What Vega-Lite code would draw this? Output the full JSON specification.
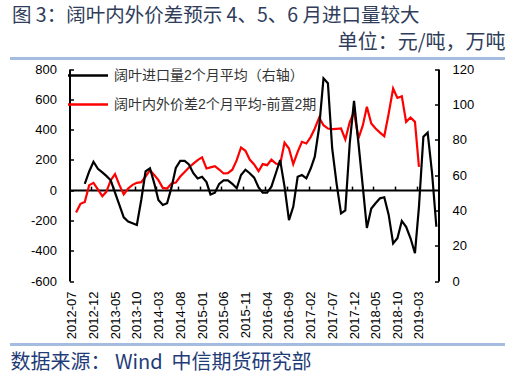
{
  "$schema": "https://vega.github.io/schema/vega-lite/v6.json",
  "width": 495,
  "height": 286,
  "autosize": {"type": "none"},
  "padding": {"left": 10, "top": 58.5, "right": 6, "bottom": 30.5},
  "background": "white",
  "title": {
    "text": "图 3：阔叶内外价差预示 4、5、6 月进口量较大",
    "anchor": "start", "frame": "group", "font": "Noto Sans CJK SC", "fontSize": 19.5,
    "fontWeight": "normal", "color": "#2f3d5b", "offset": 6, "dx": 2
  },
  "config": {
    "view": {"stroke": "#a4bcdf", "strokeWidth": 3, "strokeDash": [495, 286, 495, 286]},
    "font": "Liberation Sans",
    "axis": {"grid": false, "labelColor": "#000000", "labelFontSize": 13, "labelFont": "Liberation Sans"}
  },
  "data": {"values": [
    {"date": "2012-07-01", "imp": null, "spread": null},
    {"date": "2012-08-01", "imp": null, "spread": -148},
    {"date": "2012-09-01", "imp": null, "spread": -90},
    {"date": "2012-10-01", "imp": 55, "spread": -78},
    {"date": "2012-11-01", "imp": 62, "spread": 33},
    {"date": "2012-12-01", "imp": 67.5, "spread": 48},
    {"date": "2013-01-01", "imp": 63.5, "spread": 5},
    {"date": "2013-02-01", "imp": 61.5, "spread": -40},
    {"date": "2013-03-01", "imp": 59.5, "spread": -11},
    {"date": "2013-04-01", "imp": 57, "spread": 66},
    {"date": "2013-05-01", "imp": 50, "spread": 106},
    {"date": "2013-06-01", "imp": 43, "spread": 33},
    {"date": "2013-07-01", "imp": 36, "spread": -28},
    {"date": "2013-08-01", "imp": 33.6, "spread": 11},
    {"date": "2013-09-01", "imp": 32.7, "spread": 35},
    {"date": "2013-10-01", "imp": 31.7, "spread": 48},
    {"date": "2013-11-01", "imp": 46, "spread": 53},
    {"date": "2013-12-01", "imp": 62, "spread": 90},
    {"date": "2014-01-01", "imp": 63.8, "spread": 132},
    {"date": "2014-02-01", "imp": 55, "spread": 99},
    {"date": "2014-03-01", "imp": 45.8, "spread": 66},
    {"date": "2014-04-01", "imp": 43, "spread": 15},
    {"date": "2014-05-01", "imp": 44, "spread": 11},
    {"date": "2014-06-01", "imp": 53, "spread": 44},
    {"date": "2014-07-01", "imp": 64, "spread": 50},
    {"date": "2014-08-01", "imp": 68, "spread": 90},
    {"date": "2014-09-01", "imp": 68, "spread": 120},
    {"date": "2014-10-01", "imp": 66, "spread": 150},
    {"date": "2014-11-01", "imp": 61, "spread": 175},
    {"date": "2014-12-01", "imp": 58, "spread": 198},
    {"date": "2015-01-01", "imp": 59, "spread": 216},
    {"date": "2015-02-01", "imp": 56, "spread": 143},
    {"date": "2015-03-01", "imp": 49, "spread": 150},
    {"date": "2015-04-01", "imp": 50, "spread": 158},
    {"date": "2015-05-01", "imp": 55, "spread": 136},
    {"date": "2015-06-01", "imp": 57, "spread": 110},
    {"date": "2015-07-01", "imp": 57, "spread": 112},
    {"date": "2015-08-01", "imp": 55, "spread": 135},
    {"date": "2015-09-01", "imp": 52.5, "spread": 198},
    {"date": "2015-10-01", "imp": 60, "spread": 282},
    {"date": "2015-11-01", "imp": 63, "spread": 260},
    {"date": "2015-12-01", "imp": 61, "spread": 202},
    {"date": "2016-01-01", "imp": 58.5, "spread": 170},
    {"date": "2016-02-01", "imp": 53, "spread": 125},
    {"date": "2016-03-01", "imp": 50, "spread": 172},
    {"date": "2016-04-01", "imp": 50, "spread": 165},
    {"date": "2016-05-01", "imp": 53.4, "spread": 202},
    {"date": "2016-06-01", "imp": 61, "spread": 176},
    {"date": "2016-07-01", "imp": 68.5, "spread": 169},
    {"date": "2016-08-01", "imp": 53.4, "spread": 314},
    {"date": "2016-09-01", "imp": 34.5, "spread": 275},
    {"date": "2016-10-01", "imp": 42, "spread": 172},
    {"date": "2016-11-01", "imp": 59, "spread": 253},
    {"date": "2016-12-01", "imp": 60, "spread": 319},
    {"date": "2017-01-01", "imp": 58.1, "spread": 308},
    {"date": "2017-02-01", "imp": 63.8, "spread": 352},
    {"date": "2017-03-01", "imp": 70.4, "spread": 407},
    {"date": "2017-04-01", "imp": 87.3, "spread": 480},
    {"date": "2017-05-01", "imp": 114.7, "spread": 429},
    {"date": "2017-06-01", "imp": 112, "spread": 407},
    {"date": "2017-07-01", "imp": 75, "spread": 403},
    {"date": "2017-08-01", "imp": 55, "spread": 405},
    {"date": "2017-09-01", "imp": 38.3, "spread": 407},
    {"date": "2017-10-01", "imp": 40, "spread": 335},
    {"date": "2017-11-01", "imp": 78, "spread": 450},
    {"date": "2017-12-01", "imp": 102, "spread": 517},
    {"date": "2018-01-01", "imp": 78, "spread": 341},
    {"date": "2018-02-01", "imp": 53, "spread": 429},
    {"date": "2018-03-01", "imp": 30, "spread": 550},
    {"date": "2018-04-01", "imp": 41, "spread": 440},
    {"date": "2018-05-01", "imp": 44, "spread": 407},
    {"date": "2018-06-01", "imp": 46.8, "spread": 380},
    {"date": "2018-07-01", "imp": 47.4, "spread": 356},
    {"date": "2018-08-01", "imp": 37.4, "spread": 506},
    {"date": "2018-09-01", "imp": 21.3, "spread": 671},
    {"date": "2018-10-01", "imp": 24.2, "spread": 609},
    {"date": "2018-11-01", "imp": 34, "spread": 620},
    {"date": "2018-12-01", "imp": 30.7, "spread": 451},
    {"date": "2019-01-01", "imp": 24.2, "spread": 480},
    {"date": "2019-02-01", "imp": 15.7, "spread": 451},
    {"date": "2019-03-01", "imp": 42, "spread": 154},
    {"date": "2019-04-01", "imp": 81.7, "spread": null},
    {"date": "2019-05-01", "imp": 84, "spread": null},
    {"date": "2019-06-01", "imp": 61, "spread": null},
    {"date": "2019-07-01", "imp": 30.7, "spread": null}
  ]},
  "layer": [
    {
      "mark": {"type": "line", "strokeWidth": 2.2},
      "encoding": {
        "x": {
          "field": "date", "type": "temporal",
          "scale": {"type": "utc", "domain": [{"year": 2012, "month": 6, "date": 16, "utc": true}, {"year": 2019, "month": 7, "date": 16, "utc": true}], "range": [59.5, 428.5]},
          "axis": {
            "orient": "bottom", "offset": -63.5,
            "values": [
              {"year": 2012, "month": 7, "date": 1, "utc": true},
              {"year": 2012, "month": 12, "date": 1, "utc": true},
              {"year": 2013, "month": 5, "date": 1, "utc": true},
              {"year": 2013, "month": 10, "date": 1, "utc": true},
              {"year": 2014, "month": 3, "date": 1, "utc": true},
              {"year": 2014, "month": 8, "date": 1, "utc": true},
              {"year": 2015, "month": 1, "date": 1, "utc": true},
              {"year": 2015, "month": 6, "date": 1, "utc": true},
              {"year": 2015, "month": 11, "date": 1, "utc": true},
              {"year": 2016, "month": 4, "date": 1, "utc": true},
              {"year": 2016, "month": 9, "date": 1, "utc": true},
              {"year": 2017, "month": 2, "date": 1, "utc": true},
              {"year": 2017, "month": 7, "date": 1, "utc": true},
              {"year": 2017, "month": 12, "date": 1, "utc": true},
              {"year": 2018, "month": 5, "date": 1, "utc": true},
              {"year": 2018, "month": 10, "date": 1, "utc": true},
              {"year": 2019, "month": 3, "date": 1, "utc": true}
            ],
            "format": "%Y-%m", "labelAngle": -90, "labelPadding": 10,
            "ticks": false, "domain": false, "labelOverlap": false, "labelFlush": false,
            "title": "数据来源：\u00a0Wind\u00a0\u00a0中信期货研究部",
            "titleX": 0, "titleY": 81, "titleAlign": "left", "titleBaseline": "middle",
            "titleFont": "Noto Sans CJK SC", "titleFontSize": 20, "titleFontWeight": "normal", "titleColor": "#1f3c78"
          }
        },
        "y": {
          "field": "spread", "type": "quantitative",
          "scale": {"domain": [-600, 800], "range": [222.5, 10.5], "nice": false, "zero": false},
          "axis": {
            "orient": "left", "offset": -59.5, "values": [-600, -400, -200, 0, 200, 400, 600, 800],
            "labelExpr": "'' + datum.value", "domainColor": "#000000", "domainWidth": 2,
            "tickColor": "#000000", "tickSize": -4, "tickWidth": 1.5, "labelPadding": 17, "title": null
          }
        },
        "color": {
          "datum": "阔叶内外价差2个月平均-前置2期", "type": "nominal",
          "scale": {"domain": ["阔叶进口量2个月平均（右轴）", "阔叶内外价差2个月平均-前置2期"], "range": ["#000000", "#ff0000"]},
          "legend": {
            "orient": "none", "legendX": 71, "legendY": 10, "direction": "vertical", "title": null,
            "symbolType": "M-4,0H4", "symbolSize": 100, "symbolStrokeWidth": 2.5,
            "labelFont": "Liberation Sans, Noto Sans CJK SC", "labelFontSize": 14, "labelColor": "#333333",
            "labelOffset": 19, "rowPadding": 15, "padding": 0, "labelLimit": 400
          }
        }
      }
    },
    {
      "mark": {"type": "line", "strokeWidth": 2.2},
      "encoding": {
        "x": {
          "field": "date", "type": "temporal",
          "scale": {"type": "utc", "domain": [{"year": 2012, "month": 6, "date": 16, "utc": true}, {"year": 2019, "month": 7, "date": 16, "utc": true}], "range": [59.5, 428.5]},
          "axis": {
            "orient": "top", "offset": -131.6,
            "values": [
              {"year": 2012, "month": 11, "date": 16, "utc": true},
              {"year": 2013, "month": 4, "date": 16, "utc": true},
              {"year": 2013, "month": 9, "date": 16, "utc": true},
              {"year": 2014, "month": 2, "date": 14, "utc": true},
              {"year": 2014, "month": 7, "date": 16, "utc": true},
              {"year": 2014, "month": 12, "date": 16, "utc": true},
              {"year": 2015, "month": 5, "date": 16, "utc": true},
              {"year": 2015, "month": 10, "date": 16, "utc": true},
              {"year": 2016, "month": 3, "date": 16, "utc": true},
              {"year": 2016, "month": 8, "date": 16, "utc": true},
              {"year": 2017, "month": 1, "date": 16, "utc": true},
              {"year": 2017, "month": 6, "date": 16, "utc": true},
              {"year": 2017, "month": 11, "date": 16, "utc": true},
              {"year": 2018, "month": 4, "date": 16, "utc": true},
              {"year": 2018, "month": 9, "date": 16, "utc": true},
              {"year": 2019, "month": 2, "date": 14, "utc": true}
            ],
            "labels": false, "ticks": true, "tickSize": 4, "tickWidth": 1.5, "tickColor": "#000000",
            "domain": true, "domainColor": "#000000", "domainWidth": 2, "title": null
          }
        },
        "y": {
          "field": "imp", "type": "quantitative",
          "scale": {"domain": [0, 120], "range": [222.5, 10.5], "nice": false, "zero": false},
          "axis": {
            "orient": "right", "offset": -66.5, "values": [0, 20, 40, 60, 80, 100, 120],
            "domainColor": "#000000", "domainWidth": 2,
            "tickColor": "#000000", "tickSize": -4, "tickWidth": 1.5, "labelPadding": 17.5,
            "title": "单位：元/吨，万吨", "titleAngle": 0, "titleX": 66.5, "titleY": -16.5,
            "titleAlign": "right", "titleBaseline": "middle",
            "titleFont": "Noto Sans CJK SC", "titleFontSize": 20, "titleFontWeight": "normal", "titleColor": "#2f3d5b"
          }
        },
        "color": {"datum": "阔叶进口量2个月平均（右轴）", "type": "nominal"}
      }
    }
  ],
  "resolve": {"scale": {"y": "independent"}, "axis": {"x": "independent", "y": "independent"}}
}
